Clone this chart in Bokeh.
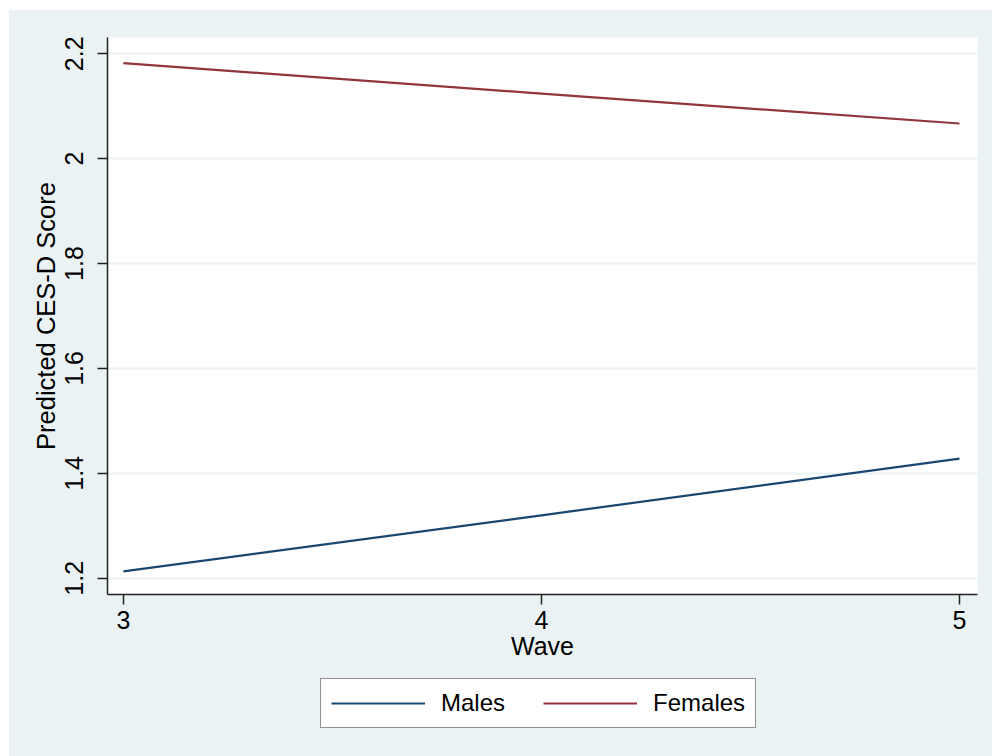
from bokeh.plotting import figure
from bokeh.models import (Range1d, FixedTicker, CustomJSTickFormatter, Legend, LegendItem)
from bokeh.layouts import column
from bokeh.embed import file_html
from bokeh.resources import INLINE

# data
waves = [3, 4, 5]
males = [1.213, 1.320, 1.428]
females = [2.182, 2.124, 2.067]
y_ticks = [1.2, 1.4, 1.6, 1.8, 2.0, 2.2]
x_ticks = [3, 4, 5]
series_names = ["Males", "Females"]

NAVY = "#1a476f"
MAROON = "#90353b"
BG = "#eaf2f3"
FONT = "Liberation Sans"

# ---- main plot ----
p = figure(frame_width=870, frame_height=557, output_backend="svg",
           toolbar_location=None,
           x_range=Range1d(2.962, 5.043), y_range=Range1d(1.169, 2.231))
p.min_border_left = 98
p.min_border_right = 15
p.min_border_top = 27
p.min_border_bottom = 80
p.border_fill_color = BG
p.background_fill_color = "white"
p.outline_line_color = None

p.line(waves, males, line_color=NAVY, line_width=2.2)
p.line(waves, females, line_color=MAROON, line_width=2.2)

fmt = CustomJSTickFormatter(code="return tick.toFixed(1).replace(/\\.0$/, '');")

p.yaxis.ticker = FixedTicker(ticks=y_ticks)
p.yaxis.formatter = fmt
p.xaxis.ticker = FixedTicker(ticks=x_ticks)
p.yaxis.major_label_orientation = "vertical"

for ax in (p.xaxis, p.yaxis):
    ax.axis_line_color = "#222222"
    ax.axis_line_width = 1.5
    ax.major_tick_line_color = "#222222"
    ax.major_tick_line_width = 1.5
    ax.major_tick_out = 10
    ax.major_tick_in = 0
    ax.minor_tick_line_color = None
    ax.major_label_text_font = FONT
    ax.major_label_text_font_size = "25px"
    ax.major_label_text_color = "black"
    ax.axis_label_text_font = FONT
    ax.axis_label_text_font_size = "25px"
    ax.axis_label_text_font_style = "normal"
    ax.axis_label_text_color = "black"

p.yaxis.axis_label_text_font_size = "25.5px"
p.xaxis.axis_label = "Wave"
p.yaxis.axis_label = "Predicted CES-D Score"
p.xaxis.major_label_standoff = 6
p.xaxis.axis_label_standoff = 0
p.yaxis.major_label_standoff = 14
p.yaxis.axis_label_standoff = 3

p.xgrid.grid_line_color = None
p.ygrid.ticker = FixedTicker(ticks=y_ticks)
p.ygrid.grid_line_color = BG
p.ygrid.grid_line_width = 2

# ---- legend strip below ----
p2 = figure(width=983, height=82, output_backend="svg", toolbar_location=None,
            x_axis_location=None, y_axis_location=None,
            x_range=Range1d(0, 1), y_range=Range1d(100, 101))
p2.min_border = 0
p2.min_border_left = 0
p2.min_border_right = 0
p2.min_border_top = 0
p2.min_border_bottom = 0
p2.border_fill_color = BG
p2.background_fill_color = BG
p2.outline_line_color = None
p2.grid.grid_line_color = None

l_m = p2.line(waves, males, line_color=NAVY, line_width=2.2)
l_f = p2.line(waves, females, line_color=MAROON, line_width=2.2)

legend = Legend(items=[LegendItem(label=series_names[0], renderers=[l_m]),
                       LegendItem(label=series_names[1], renderers=[l_f])],
                orientation="horizontal", location=(213, 28))
legend.border_line_color = "#222222"
legend.border_line_width = 1.5
legend.background_fill_color = "white"
legend.background_fill_alpha = 1.0
legend.label_text_font = FONT
legend.label_text_font_size = "24px"
legend.label_text_color = "black"
legend.glyph_width = 94
legend.glyph_height = 24
legend.label_standoff = 16
legend.spacing = 38
legend.padding = 10
legend.margin = 0
p2.add_layout(legend, "center")

layout = column(p, p2, spacing=0)
layout.margin = (10, 0, 0, 9)
layout.styles = {"background-color": BG}
open("out.html", "w").write(file_html(layout, INLINE))
